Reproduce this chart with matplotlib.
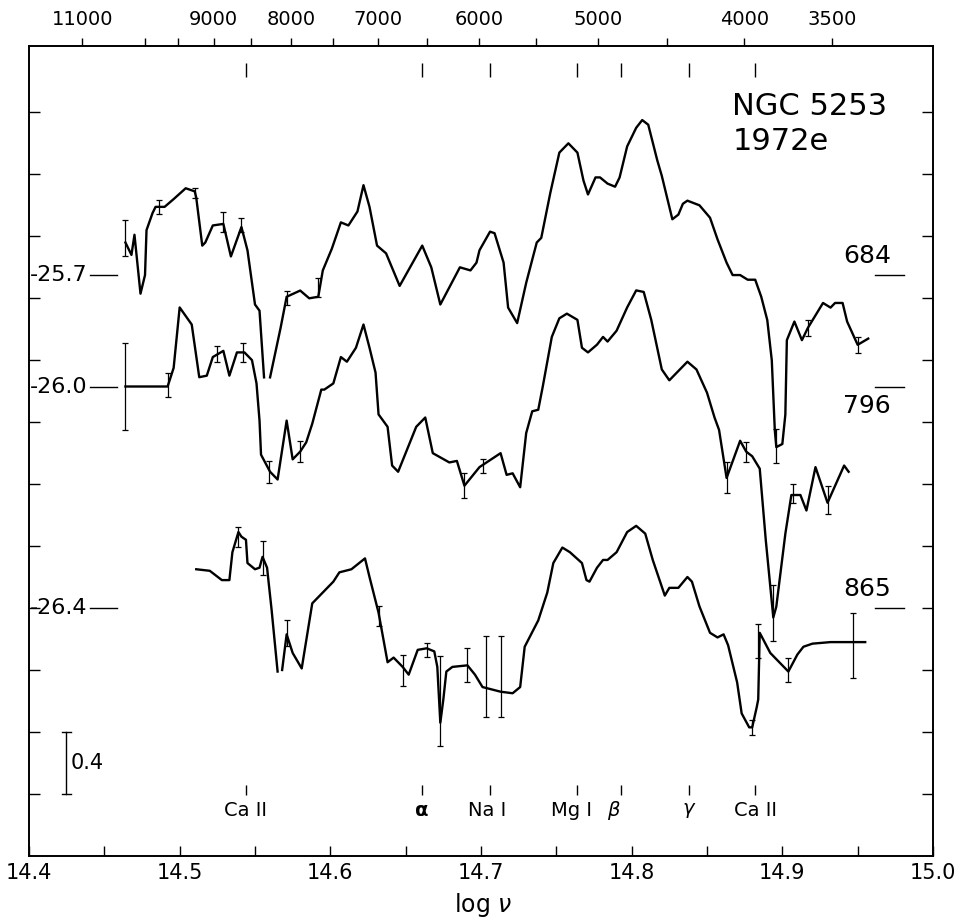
import numpy as np
import matplotlib
matplotlib.use('Agg')
import matplotlib.pyplot as plt

plt.rcParams['font.family'] = ['DejaVu Sans']
plt.rcParams['mathtext.fontset'] = 'dejavusans'

C_ANG = 2.998e18   # speed of light, Angstrom/s

# spectrum 684 : log nu, log F_nu
nu_684 = [14.464, 14.468, 14.470, 14.474, 14.477, 14.478, 14.482, 14.484, 14.490, 14.496,
          14.504, 14.507, 14.510, 14.511, 14.515, 14.517, 14.522, 14.529, 14.534, 14.541,
          14.545, 14.550, 14.553, 14.556, 14.558, 14.560, 14.567, 14.571, 14.580, 14.586,
          14.592, 14.595, 14.601, 14.607, 14.612, 14.618, 14.622, 14.626, 14.631, 14.637,
          14.646, 14.661, 14.667, 14.673, 14.686, 14.693, 14.697, 14.699, 14.706, 14.709,
          14.715, 14.718, 14.724, 14.730, 14.737, 14.740, 14.746, 14.752, 14.758, 14.764,
          14.768, 14.771, 14.776, 14.779, 14.784, 14.789, 14.792, 14.797, 14.803, 14.807,
          14.811, 14.817, 14.820, 14.827, 14.831, 14.834, 14.837, 14.845, 14.852, 14.857,
          14.863, 14.867, 14.872, 14.877, 14.882, 14.886, 14.890, 14.893, 14.895, 14.896,
          14.900, 14.902, 14.903, 14.908, 14.913, 14.917, 14.927, 14.932, 14.935, 14.940,
          14.943, 14.950, 14.957]
f_684 = [-25.49, -25.57, -25.44, -25.82, -25.70, -25.41, -25.30, -25.26, -25.26, -25.21,
         -25.14, -25.15, -25.16, -25.20, -25.51, -25.49, -25.38, -25.37, -25.58, -25.39,
         -25.54, -25.89, -25.93, -26.36, np.nan, -26.36, -26.04, -25.84, -25.80, -25.85,
         -25.84, -25.67, -25.53, -25.36, -25.38, -25.29, -25.12, -25.26, -25.51, -25.56,
         -25.77, -25.51, -25.65, -25.89, -25.65, -25.67, -25.62, -25.54, -25.42, -25.43,
         -25.62, -25.91, -26.01, -25.75, -25.49, -25.46, -25.17, -24.91, -24.85, -24.91,
         -25.09, -25.18, -25.07, -25.07, -25.11, -25.13, -25.07, -24.87, -24.75, -24.70,
         -24.73, -24.96, -25.06, -25.34, -25.31, -25.24, -25.22, -25.25, -25.33, -25.47,
         -25.62, -25.70, -25.70, -25.73, -25.73, -25.84, -25.99, -26.25, -26.70, -26.81,
         -26.79, -26.60, -26.12, -26.00, -26.12, -26.04, -25.88, -25.91, -25.88, -25.88,
         -26.00, -26.15, -26.11]
err_nu_684 = [14.464, 14.486, 14.510, 14.529, 14.541, 14.571, 14.592, 14.896, 14.917, 14.950]
err_f_684 = [-25.46, -25.26, -25.17, -25.36, -25.38, -25.85, -25.78, -26.80, -26.04, -26.15]
err_h_684 = [0.115, 0.045, 0.03, 0.065, 0.045, 0.045, 0.06, 0.11, 0.05, 0.05]

# spectrum 796
nu_796 = [14.464, 14.492, 14.496, 14.500, 14.508, 14.513, 14.518, 14.522, 14.529, 14.533,
          14.538, 14.543, 14.548, 14.551, 14.553, 14.554, 14.560, 14.565, 14.571, 14.575,
          14.580, 14.584, 14.588, 14.594, 14.596, 14.602, 14.607, 14.611, 14.617, 14.622,
          14.626, 14.630, 14.632, 14.638, 14.641, 14.645, 14.657, 14.663, 14.668, 14.679,
          14.684, 14.689, 14.699, 14.713, 14.717, 14.721, 14.726, 14.730, 14.734, 14.738,
          14.741, 14.747, 14.752, 14.757, 14.764, 14.767, 14.771, 14.777, 14.781, 14.784,
          14.790, 14.797, 14.803, 14.808, 14.813, 14.820, 14.825, 14.830, 14.837, 14.843,
          14.850, 14.855, 14.858, 14.863, 14.872, 14.876, 14.880, 14.885, 14.889, 14.894,
          14.896, 14.902, 14.906, 14.912, 14.916, 14.922, 14.930, 14.941, 14.944]
f_796 = [-26.00, -26.00, -25.88, -25.49, -25.60, -25.94, -25.93, -25.81, -25.77, -25.93,
         -25.78, -25.78, -25.83, -25.98, -26.22, -26.44, -26.55, -26.60, -26.22, -26.47,
         -26.42, -26.36, -26.24, -26.02, -26.02, -25.98, -25.81, -25.84, -25.75, -25.60,
         -25.75, -25.91, -26.18, -26.26, -26.51, -26.55, -26.26, -26.20, -26.43, -26.49,
         -26.48, -26.64, -26.52, -26.43, -26.57, -26.56, -26.65, -26.30, -26.16, -26.15,
         -26.00, -25.68, -25.56, -25.53, -25.57, -25.75, -25.78, -25.73, -25.68, -25.71,
         -25.64, -25.49, -25.38, -25.39, -25.57, -25.89, -25.96, -25.91, -25.84, -25.89,
         -26.04, -26.20, -26.28, -26.59, -26.35, -26.42, -26.45, -26.53, -26.99, -27.49,
         -27.42, -26.95, -26.70, -26.70, -26.80, -26.52, -26.75, -26.51, -26.55]
err_nu_796 = [14.464, 14.492, 14.525, 14.542, 14.559, 14.580, 14.689, 14.701, 14.863, 14.876,
              14.894, 14.907, 14.930]
err_f_796 = [-26.00, -25.99, -25.79, -25.78, -26.55, -26.42, -26.64, -26.51, -26.59, -26.42,
             -27.46, -26.69, -26.73]
err_h_796 = [0.28, 0.08, 0.05, 0.06, 0.07, 0.07, 0.08, 0.045, 0.10, 0.065, 0.18, 0.06, 0.09]

# spectrum 865
nu_865 = [14.511, 14.520, 14.528, 14.533, 14.535, 14.539, 14.541, 14.544, 14.545, 14.550,
          14.553, 14.555, 14.558, 14.561, 14.565, 14.566, 14.568, 14.571, 14.575, 14.581,
          14.584, 14.588, 14.593, 14.602, 14.606, 14.614, 14.623, 14.626, 14.632, 14.635,
          14.638, 14.642, 14.648, 14.652, 14.658, 14.664, 14.669, 14.671, 14.673, 14.675,
          14.677, 14.681, 14.691, 14.696, 14.701, 14.713, 14.721, 14.726, 14.729, 14.738,
          14.744, 14.748, 14.754, 14.759, 14.767, 14.770, 14.772, 14.777, 14.781, 14.784,
          14.790, 14.797, 14.803, 14.809, 14.814, 14.822, 14.825, 14.831, 14.837, 14.840,
          14.845, 14.852, 14.857, 14.861, 14.864, 14.870, 14.873, 14.878, 14.880, 14.883,
          14.884, 14.885, 14.892, 14.898, 14.904, 14.910, 14.914, 14.920, 14.932, 14.955]
f_865 = [-26.15, -26.16, -26.22, -26.22, -26.04, -25.91, -25.94, -25.96, -26.11, -26.15,
         -26.14, -26.07, -26.14, -26.41, -26.81, np.nan, -26.80, -26.57, -26.69, -26.79,
         -26.61, -26.37, -26.32, -26.23, -26.17, -26.15, -26.08, -26.20, -26.43, -26.59,
         -26.75, -26.72, -26.78, -26.83, -26.67, -26.66, -26.68, -26.78, -27.14, -26.99,
         -26.81, -26.78, -26.77, -26.83, -26.91, -26.94, -26.95, -26.91, -26.65, -26.48,
         -26.30, -26.11, -26.01, -26.04, -26.11, -26.22, -26.23, -26.14, -26.09, -26.09,
         -26.04, -25.91, -25.87, -25.92, -26.09, -26.32, -26.27, -26.27, -26.20, -26.23,
         -26.39, -26.56, -26.59, -26.57, -26.64, -26.88, -27.08, -27.17, -27.17, -27.04,
         -26.99, -26.56, -26.69, -26.75, -26.81, -26.70, -26.65, -26.63, -26.62, -26.62]
err_nu_865 = [14.539, 14.555, 14.571, 14.632, 14.648, 14.664, 14.673, 14.691, 14.703, 14.713,
              14.880, 14.884, 14.904, 14.947]
err_f_865 = [-25.94, -26.08, -26.56, -26.45, -26.80, -26.67, -27.00, -26.77, -26.84, -26.84,
             -27.17, -26.61, -26.80, -26.64]
err_h_865 = [0.065, 0.11, 0.085, 0.065, 0.10, 0.045, 0.29, 0.11, 0.26, 0.26,
             0.05, 0.11, 0.08, 0.21]

names = ['684', '796', '865']
zero = [-25.7, -26.0, -26.4]          # log F_nu at the side marks
base = [3.748, 3.029, 1.600]          # where each zero mark sits on the page
side = [1, -1, 1]

wl_major = [11000, 9000, 8000, 7000, 6000, 5000, 4000, 3500]
wl_minor = [10000, 9500, 8500, 7500, 6500, 5500, 4500]

line_lab = ['Ca II', u'\u03b1', 'Na I', 'Mg I', r'$\beta$', r'$\gamma$', 'Ca II']
line_nu = [14.544, 14.661, 14.706, 14.764, 14.793, 14.838, 14.882]
lab_dx = [0, 0, -0.002, -0.004, -0.005, 0, 0]

fig = plt.figure(figsize=(9.64, 9.24), dpi=100)
ax = fig.add_axes([29/964., 68/924., 904/964., 810/924.])
ax.set_xlim(14.4, 15.0)
ax.set_ylim(0, 810/155.)

curves = [(nu_684, f_684, err_nu_684, err_f_684, err_h_684),
          (nu_796, f_796, err_nu_796, err_f_796, err_h_796),
          (nu_865, f_865, err_nu_865, err_f_865, err_h_865)]

ty = ax.get_yaxis_transform()
tx = ax.get_xaxis_transform()

for (nu, f, en, ef, eh), z, b, nm, sd in zip(curves, zero, base, names, side):
    y = np.array(f, float) - z + b
    ax.plot(nu, y, color='k', lw=1.7, solid_joinstyle='round')
    ax.errorbar(en, np.array(ef) - z + b, yerr=eh, fmt='none', ecolor='k',
                elinewidth=0.9, capsize=2.5, capthick=0.9)
    # zero level marks
    ax.text(0.065, b, '%.1f' % z, transform=ty, ha='right', va='center', fontsize=16)
    ax.plot([0.0675, 0.097], [b, b], transform=ty, color='k', lw=1.0)
    ax.plot([0.936, 0.968], [b, b], transform=ty, color='k', lw=1.0)
    ax.annotate(nm, (0.927, b), xycoords=ty, xytext=(0, 14 * sd),
                textcoords='offset points', ha='center', va='center', fontsize=18)

# bottom axis
ax.set_xticks(np.arange(14.4, 15.001, 0.1))
ax.set_xticklabels(['%.1f' % v for v in np.arange(14.4, 15.001, 0.1)])
ax.set_xticks(np.arange(14.45, 15.0, 0.1), minor=True)
ax.tick_params(axis='x', which='both', direction='in', length=7.5, width=1.0,
               top=True, labelsize=15, pad=5)
ax.set_yticks(np.arange(0.4, 4.81, 0.4))
ax.set_yticklabels([])
ax.tick_params(axis='y', direction='in', length=8, width=1.0, right=True)
for s in ax.spines.values():
    s.set_linewidth(1.4)

# wavelength axis on top
ax2 = ax.twiny()
ax2.set_xlim(ax.get_xlim())
ax2.set_xticks(np.log10(C_ANG / np.array(wl_major, float)))
ax2.set_xticklabels([str(w) for w in wl_major])
ax2.set_xticks(np.log10(C_ANG / np.array(wl_minor, float)), minor=True)
ax2.tick_params(axis='x', which='both', direction='out', length=6, width=1.0,
                labelsize=14, pad=6)
for s in ax2.spines.values():
    s.set_visible(False)

# line identifications
ax.vlines(line_nu, 0.962, 0.979, transform=tx, color='k', lw=1.0)
ax.vlines(line_nu, 0.0753, 0.0877, transform=tx, color='k', lw=1.0)
for n, lab, dx in zip(line_nu, line_lab, lab_dx):
    ax.text(n + dx, 0.0556, lab, transform=tx, ha='center', va='center', fontsize=14,
            fontweight='bold' if lab == u'\u03b1' else 'normal')

# scale bar
ax.plot([0.041, 0.041], [0.4, 0.8], transform=ty, color='k', lw=1.0)
ax.plot([0.036, 0.046], [0.4, 0.4], transform=ty, color='k', lw=1.0)
ax.plot([0.036, 0.046], [0.8, 0.8], transform=ty, color='k', lw=1.0)
ax.text(0.046, 0.6, '0.4', transform=ty, ha='left', va='center', fontsize=15)

ax.text(0.778, 0.943, 'NGC 5253', transform=ax.transAxes, ha='left', va='top', fontsize=22)
ax.text(0.778, 0.900, '1972e', transform=ax.transAxes, ha='left', va='top', fontsize=22)

fig.text(483/964., 1 - 905/924., r'log $\nu$', ha='center', va='center', fontsize=17)

fig.savefig('out.png', dpi=100)
